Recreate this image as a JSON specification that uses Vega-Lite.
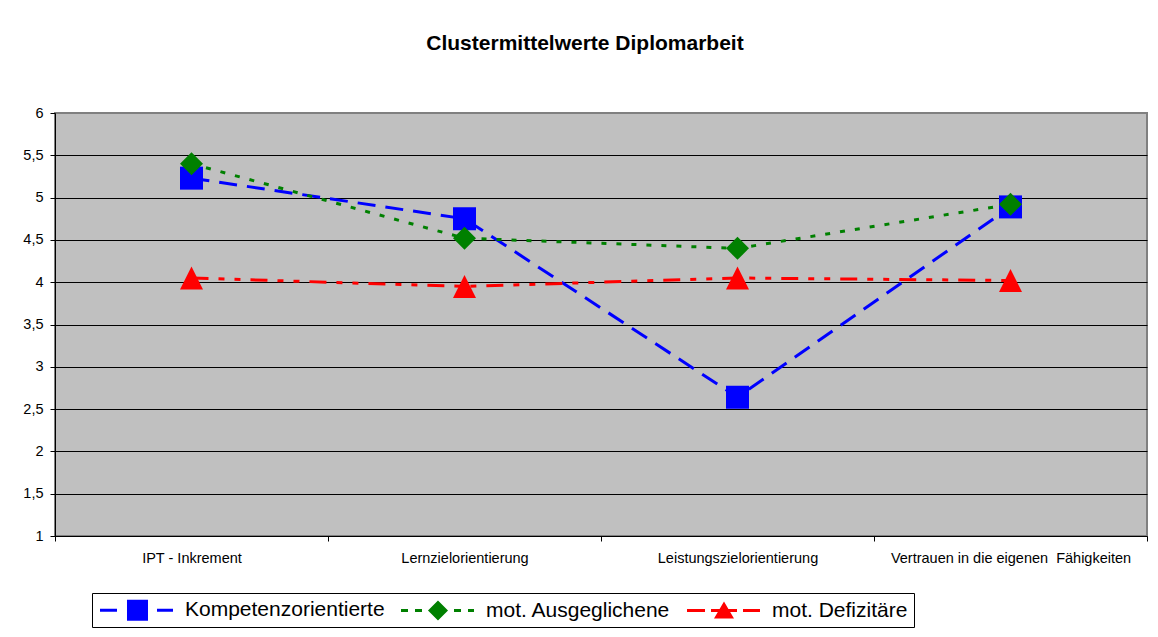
{
  "$schema": "https://vega.github.io/schema/vega-lite/v6.json",
  "width": 1092,
  "height": 423,
  "autosize": {"type": "none"},
  "padding": {"left": 55, "top": 113, "right": 11, "bottom": 101},
  "background": "white",
  "title": {
    "text": "Clustermittelwerte Diplomarbeit",
    "font": "Liberation Sans",
    "fontSize": 21,
    "fontWeight": "bold",
    "color": "black",
    "anchor": "middle",
    "frame": "group",
    "dx": -16,
    "offset": 34,
    "baseline": "alphabetic"
  },
  "data": {
    "values": [
      {"Kategorie": "IPT - Inkrement", "Cluster": "Kompetenzorientierte", "Wert": 5.23},
      {"Kategorie": "Lernzielorientierung", "Cluster": "Kompetenzorientierte", "Wert": 4.75},
      {"Kategorie": "Leistungszielorientierung", "Cluster": "Kompetenzorientierte", "Wert": 2.64},
      {"Kategorie": "Vertrauen in die eigenen  Fähigkeiten", "Cluster": "Kompetenzorientierte", "Wert": 4.89},
      {"Kategorie": "IPT - Inkrement", "Cluster": "mot. Ausgeglichene", "Wert": 5.40},
      {"Kategorie": "Lernzielorientierung", "Cluster": "mot. Ausgeglichene", "Wert": 4.52},
      {"Kategorie": "Leistungszielorientierung", "Cluster": "mot. Ausgeglichene", "Wert": 4.40},
      {"Kategorie": "Vertrauen in die eigenen  Fähigkeiten", "Cluster": "mot. Ausgeglichene", "Wert": 4.92},
      {"Kategorie": "IPT - Inkrement", "Cluster": "mot. Defizitäre", "Wert": 4.05},
      {"Kategorie": "Lernzielorientierung", "Cluster": "mot. Defizitäre", "Wert": 3.95},
      {"Kategorie": "Leistungszielorientierung", "Cluster": "mot. Defizitäre", "Wert": 4.05},
      {"Kategorie": "Vertrauen in die eigenen  Fähigkeiten", "Cluster": "mot. Defizitäre", "Wert": 4.02}
    ]
  },
  "encoding": {
    "x": {
      "field": "Kategorie",
      "type": "nominal",
      "sort": ["IPT - Inkrement", "Lernzielorientierung", "Leistungszielorientierung", "Vertrauen in die eigenen  Fähigkeiten"],
      "scale": {"type": "band", "paddingInner": 0, "paddingOuter": 0},
      "axis": {
        "title": null,
        "labelAngle": 0,
        "labelExpr": "replace(datum.label, '  ', ' \u00a0')",
        "labelFont": "Liberation Sans",
        "labelFontSize": 14.5,
        "labelColor": "black",
        "labelPadding": 10,
        "labelLimit": 400,
        "tickBand": "extent",
        "tickSize": 5,
        "tickColor": "black",
        "domainColor": "black",
        "domainWidth": 1,
        "grid": false
      }
    },
    "y": {
      "field": "Wert",
      "type": "quantitative",
      "scale": {"domain": [1, 6], "nice": false, "zero": false},
      "axis": {
        "title": null,
        "values": [1, 1.5, 2, 2.5, 3, 3.5, 4, 4.5, 5, 5.5, 6],
        "labelExpr": "replace(toString(datum.value), '.', ',')",
        "labelFont": "Liberation Sans",
        "labelFontSize": 14.5,
        "labelColor": "black",
        "labelPadding": 7,
        "tickSize": 5,
        "tickColor": "black",
        "domainColor": "black",
        "domainWidth": 1,
        "grid": true,
        "gridColor": "black",
        "gridWidth": 1,
        "gridOpacity": {"condition": {"test": "datum.value == 6 || datum.value == 1", "value": 0}, "value": 1}
      }
    },
    "color": {
      "field": "Cluster",
      "type": "nominal",
      "scale": {
        "domain": ["Kompetenzorientierte", "mot. Ausgeglichene", "mot. Defizitäre"],
        "range": ["#0000FF", "#008000", "#FF0000"]
      },
      "legend": {
        "orient": "none",
        "legendX": 37,
        "legendY": 480,
        "direction": "horizontal",
        "title": null,
        "padding": 6,
        "strokeColor": "black",
        "fillColor": "white",
        "symbolSize": 484,
        "symbolStrokeWidth": 0,
        "labelOffset": 65,
        "columnPadding": 14,
        "labelFont": "Liberation Sans",
        "labelFontSize": 21,
        "labelColor": "black",
        "labelLimit": 400,
        "encode": {
          "symbols": {
            "update": {
              "shape": {"signal": "datum.value === 'Kompetenzorientierte' ? 'M-0.818,-0.136H0.727V0.136H-0.818Z M1.636,-0.955H3.545V0.955H1.636Z M4.364,-0.136H5.818V0.136H4.364Z' : datum.value === 'mot. Ausgeglichene' ? 'M-0.818,-0.136H-0.182V0.136H-0.818Z M0.455,-0.136H1.091V0.136H0.455Z M2.545,-0.909L3.455,0L2.545,0.909L1.636,0Z M4,-0.136H4.636V0.136H4Z M5.273,-0.136H5.818V0.136H5.273Z' : 'M-0.818,-0.136H0.818V0.136H-0.818Z M1.364,-0.136H3.727V0.136H1.364Z M2.545,-0.818L3.455,0.727L1.636,0.727Z M4.273,-0.136H5.818V0.136H4.273Z'"},
              "fill": {"scale": "color", "field": "value"},
              "stroke": {"value": "transparent"},
              "strokeWidth": {"value": 0},
              "strokeDash": {"value": []},
              "opacity": {"value": 1},
              "fillOpacity": {"value": 1}
            }
          }
        }
      }
    }
  },
  "layer": [
    {
      "mark": {"type": "line", "strokeWidth": 3},
      "encoding": {
        "strokeDash": {
          "field": "Cluster",
          "type": "nominal",
          "scale": {
            "domain": ["Kompetenzorientierte", "mot. Ausgeglichene", "mot. Defizitäre"],
            "range": [[18, 10], [5, 10], [17, 10, 6, 10, 6, 10]]
          },
          "legend": null
        }
      }
    },
    {
      "transform": [{"filter": "datum.Cluster === 'Kompetenzorientierte'"}],
      "mark": {"type": "point", "shape": "square", "filled": true, "opacity": 1, "size": 529, "strokeWidth": 0}
    },
    {
      "transform": [{"filter": "datum.Cluster === 'mot. Ausgeglichene'"}],
      "mark": {"type": "point", "shape": "diamond", "filled": true, "opacity": 1, "size": 529, "strokeWidth": 0}
    },
    {
      "transform": [{"filter": "datum.Cluster === 'mot. Defizitäre'"}],
      "mark": {"type": "point", "shape": "M0,-1L1,1L-1,1Z", "filled": true, "opacity": 1, "size": 529, "strokeWidth": 0}
    }
  ],
  "config": {
    "font": "Liberation Sans",
    "view": {"fill": "#C0C0C0", "stroke": "#808080", "strokeWidth": 2}
  }
}
